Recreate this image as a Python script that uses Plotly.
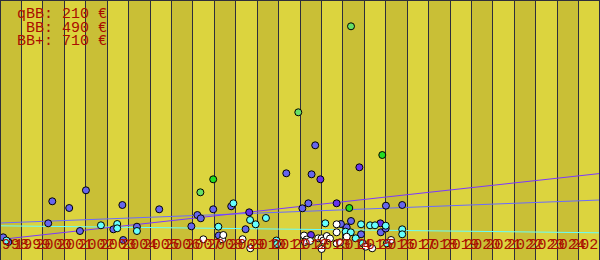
import plotly.graph_objects as go

# ---------------- data ----------------
years = list(range(1998, 2026))
year_labels = [str(y) for y in years]

bb_x = [1997.65, 1997.89, 1999.94, 2000.73, 1999.75, 2001.51, 2003.21, 2004.93, 2002.79, 2001.23,
        2003.89, 2003.25, 2006.43, 2006.71, 2006.87, 2007.45, 2008.29, 2008.96, 2010.86, 2012.04,
        2012.21, 2011.89, 2011.61, 2007.71, 2015.51, 2016.27, 2013.68, 2013.88, 2014.35, 2015.27,
        2013.41, 2015.50]
bb_y = [227, 180, 587, 520, 367, 697, 550, 507, 307, 290,
        333, 200, 337, 450, 417, 507, 537, 308, 867, 857,
        1147, 567, 517, 245, 543, 550, 327, 390, 257, 277,
        360, 315]

bbp_x = [2009.13, 2012.45, 2014.27, 2013.21, 2015.25, 2012.01]
bbp_y = [477, 807, 927, 567, 367, 250]

gl_x = [2013.88, 2011.42, 2006.85]
gl_y = [2337, 1477, 677]

gb_x = [2007.45, 2015.34, 2013.80]
gb_y = [807, 1050, 520]

qbb_x = [1997.80, 2002.21, 2002.97, 2002.97, 2003.89, 2008.39, 2007.69, 2009.17, 2009.43, 2009.91,
         2010.40, 2010.43, 2012.68, 2013.63, 2013.87, 2014.35, 2014.77, 2015.00, 2015.50, 2014.10,
         2014.43, 2015.55, 2016.27, 2016.27]
qbb_y = [195, 347, 360, 317, 290, 567, 333, 400, 357, 420,
         195, 160, 367, 283, 277, 357, 347, 347, 343, 217,
         167, 167, 307, 257]

wh_x = [2006.99, 2007.87, 2007.92, 2008.82, 2009.18, 2011.69, 2011.81, 2011.73, 2012.35, 2012.51,
        2012.59, 2012.75, 2012.90, 2012.51, 2013.21, 2013.21, 2013.21, 2013.37, 2013.68, 2014.57,
        2014.87, 2015.75, 2011.97]
wh_y = [207, 207, 250, 208, 117, 245, 205, 180, 217, 217,
        195, 240, 215, 110, 357, 277, 167, 177, 233, 133,
        117, 200, 190]

trend_x = [1997.5, 2025.5]
bb_trend = [370, 600]
bbp_trend = [205, 865]
qbb_trend = [342, 272]

labels = ["qBB: 210 €", " BB: 490 €", "BB+: 710 €"]

# ---------------- styles ----------------
LIGHT = "#dcd43e"
DARK = "#c9bf36"
GRID = "#2e2e3c"
RED = "#aa0e00"
FONT = "Liberation Mono"

fig = go.Figure()

fig.add_trace(go.Scatter(x=trend_x, y=qbb_trend, mode="lines", line=dict(color="#66ffff", width=1)))
fig.add_trace(go.Scatter(x=trend_x, y=bb_trend, mode="lines", line=dict(color="#6a6aff", width=1)))
fig.add_trace(go.Scatter(x=trend_x, y=bbp_trend, mode="lines", line=dict(color="#7a38ff", width=1)))

def pts(x, y, c):
    fig.add_trace(go.Scatter(x=x, y=y, mode="markers",
                             marker=dict(color=c, size=7, line=dict(color="black", width=1))))

pts(bb_x, bb_y, "#6666ee")
pts(bbp_x, bbp_y, "#6633ee")
pts(qbb_x, qbb_y, "#66ffff")
pts(wh_x, wh_y, "#ffffff")
pts(gl_x, gl_y, "#66e066")
pts(gb_x, gb_y, "#22dd22")

shapes = []
for i, yv in enumerate(years):
    if i % 2 == 0:
        shapes.append(dict(type="rect", xref="x", yref="paper", x0=yv - 0.5, x1=yv + 0.5,
                           y0=0, y1=1, fillcolor=DARK, line=dict(width=0), layer="below"))
shapes.append(dict(type="line", xref="paper", yref="paper", x0=0, x1=1, y0=1, y1=1,
                   line=dict(color=GRID, width=2)))
shapes.append(dict(type="line", xref="paper", yref="paper", x0=0, x1=0, y0=0, y1=1,
                   line=dict(color=GRID, width=2)))
shapes.append(dict(type="line", xref="paper", yref="paper", x0=1, x1=1, y0=0, y1=1,
                   line=dict(color=GRID, width=2)))

annotations = []
rows_px = [14.5, 28.2, 42.0]
for t, r in zip(labels, rows_px):
    annotations.append(dict(text=t.replace(" ", "\u00a0"), xref="paper", yref="paper",
                            x=0, y=1 - r / 260, xanchor="left", yanchor="middle", xshift=14.5,
                            showarrow=False, font=dict(family=FONT, size=15, color=RED)))

fig.update_layout(
    width=600, height=260, margin=dict(l=0, r=0, t=0, b=0, autoexpand=False),
    paper_bgcolor=LIGHT, plot_bgcolor=LIGHT, showlegend=False,
    shapes=shapes, annotations=annotations,
    xaxis=dict(range=[1997.5, 2025.5], tickvals=years, ticktext=year_labels, tickangle=0,
               automargin=False,
               ticklabelposition="inside", ticklabeloverflow="allow", ticks="",
               ticklabelstandoff=5,
               tickfont=dict(family=FONT, size=15, color=RED), showgrid=False, zeroline=False,
               showline=False,
               minor=dict(tick0=1997.5, dtick=1, showgrid=True, gridcolor=GRID, gridwidth=1, ticks="")),
    yaxis=dict(range=[0, 2600], showticklabels=False, showgrid=False, zeroline=False, ticks="",
               automargin=False),
)

fig.write_html("out.html")
